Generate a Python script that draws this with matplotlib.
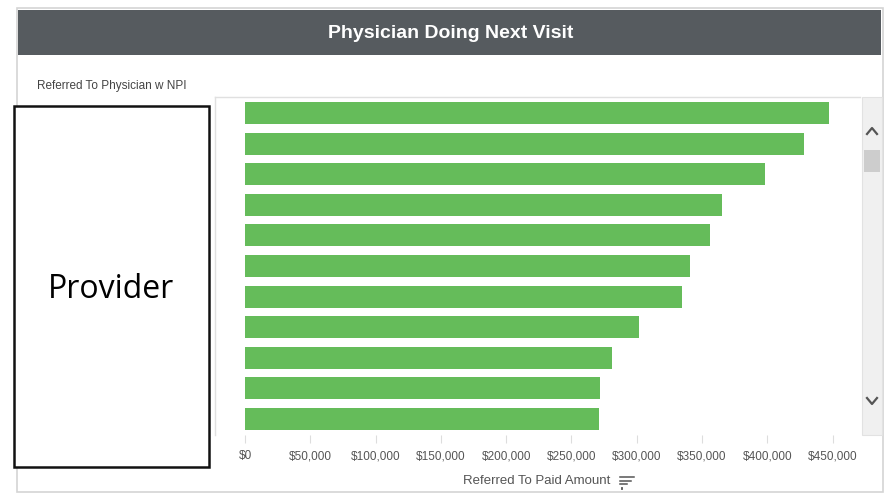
import matplotlib.pyplot as plt
from matplotlib.patches import Rectangle
from matplotlib.lines import Line2D
from matplotlib.ticker import FuncFormatter

# data
providers = ["P1", "P2", "P3", "P4", "P5", "P6", "P7", "P8", "P9", "P10", "P11"]
paid_amount = [447000, 428000, 398000, 365000, 356000, 341000, 335000,
               302000, 281000, 272000, 271000]
tick_values = [0, 50000, 100000, 150000, 200000, 250000, 300000,
               350000, 400000, 450000]

title = "Physician Doing Next Visit"
dim_label = "Referred To Physician w NPI"
x_label = "Referred To Paid Amount"

W, H = 889, 495
plt.rcParams['font.family'] = ['Liberation Sans Narrow', 'Liberation Sans', 'DejaVu Sans']

fig = plt.figure(figsize=(W / 100, H / 100), dpi=100)

# overlay in pixel coords for the dashboard chrome
bg = fig.add_axes([0, 0, 1, 1])
bg.set_xlim(0, W)
bg.set_ylim(H, 0)
bg.axis("off")

bg.add_patch(Rectangle((17, 8), 866, 484, fill=False, ec="#d4d4d4", lw=1.2))
bg.add_patch(Rectangle((18, 10), 863, 45, fc="#565b5f", ec="none"))
bg.text(451, 33, title, color="white", fontsize=14, fontweight="bold",
        ha="center", va="center")
bg.text(37, 86, dim_label, color="#444444", fontsize=8.5, ha="left", va="center")

# scrollbar
bg.add_patch(Rectangle((862, 97), 20, 338, fc="#f0f0f0", ec="#e2e2e2", lw=0.8))
bg.add_patch(Rectangle((864, 150), 16, 22, fc="#cdcdcd", ec="none"))
bg.add_line(Line2D([867, 872, 877], [134, 128, 134], color="#555555", lw=1.6))
bg.add_line(Line2D([867, 872, 877], [398, 404, 398], color="#555555", lw=1.6))

# provider box
bg.add_patch(Rectangle((14, 106), 195, 361, fc="white", ec="#111111", lw=1.8, zorder=5))
bg.text(111, 289, "Provider", fontsize=23, family="Open Sans", color="black",
        ha="center", va="center", zorder=6)

# sort icon next to axis title
for i, (x0, x1) in enumerate([(620, 634), (620, 631), (620, 627)]):
    bg.add_line(Line2D([x0, x1], [477 + i * 3.5, 477 + i * 3.5], color="#555555", lw=1.1))
bg.add_line(Line2D([622, 622], [487.5, 489], color="#555555", lw=1.3))

# main chart
ax = fig.add_axes([215 / W, (H - 435) / H, (860 - 215) / W, (435 - 97) / H])
ypos = list(range(len(providers)))
ax.barh(ypos, paid_amount, height=0.72, color="#65bc5a")
ax.set_xlim(-23000, 471000)
ax.set_ylim(len(providers) - 0.48, -0.52)
ax.set_yticks([])
ax.set_xticks(tick_values)
ax.xaxis.set_major_formatter(FuncFormatter(lambda v, p: "${:,.0f}".format(v)))
ax.tick_params(axis="x", length=6, color="#dddddd", labelcolor="#555555",
               labelsize=8.5, pad=5)
for s in ["bottom", "right"]:
    ax.spines[s].set_visible(False)
for s in ["left", "top"]:
    ax.spines[s].set_color("#e0e0e0")
    ax.spines[s].set_linewidth(1)
ax.set_xlabel(x_label, fontsize=9.5, color="#555555")
ax.xaxis.set_label_coords((537 - 215) / (860 - 215), -(481 - 435) / (435 - 97))
ax.xaxis.label.set_va("center")

fig.savefig("out.png", dpi=100)
